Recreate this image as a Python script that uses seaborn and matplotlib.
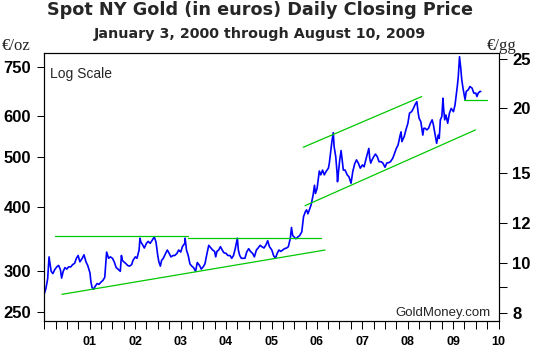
import numpy as np
import pandas as pd
import matplotlib
matplotlib.use('Agg')
import matplotlib.pyplot as plt
import seaborn as sns

# ---------------- data ----------------
dates = [
    "2000-01-03", "2000-01-14", "2000-01-28", "2000-02-08", "2000-02-15", "2000-02-25",
    "2000-03-10", "2000-03-24", "2000-04-10", "2000-04-25", "2000-05-10", "2000-05-19",
    "2000-06-01", "2000-06-15", "2000-06-30", "2000-07-14", "2000-08-01", "2000-08-15",
    "2000-09-01", "2000-09-15", "2000-09-29", "2000-10-13", "2000-11-01", "2000-11-15",
    "2000-12-01", "2000-12-15",
    "2001-01-02", "2001-01-10", "2001-01-19", "2001-02-01", "2001-02-15", "2001-03-01",
    "2001-03-15", "2001-04-02", "2001-04-16", "2001-05-01", "2001-05-16", "2001-06-01",
    "2001-06-15", "2001-07-02", "2001-07-16", "2001-08-01", "2001-08-15", "2001-09-03",
    "2001-09-12", "2001-09-20", "2001-10-01", "2001-10-15", "2001-11-01", "2001-11-15",
    "2001-12-03", "2001-12-14",
    "2002-01-02", "2002-01-15", "2002-02-01", "2002-02-08", "2002-02-15", "2002-03-01",
    "2002-03-15", "2002-04-01", "2002-04-15", "2002-05-01", "2002-05-15", "2002-06-03",
    "2002-06-17", "2002-07-01", "2002-07-10", "2002-07-22", "2002-08-01", "2002-08-15",
    "2002-09-02", "2002-09-16", "2002-10-01", "2002-10-15", "2002-11-01", "2002-11-15",
    "2002-12-02", "2002-12-16",
    "2003-01-02", "2003-01-15", "2003-02-03", "2003-02-06", "2003-02-17", "2003-03-03",
    "2003-03-17", "2003-04-01", "2003-04-15", "2003-05-01", "2003-05-15", "2003-06-02",
    "2003-06-16", "2003-07-01", "2003-07-15", "2003-08-01", "2003-08-15", "2003-09-01",
    "2003-09-15", "2003-10-01", "2003-10-10", "2003-10-20", "2003-11-03", "2003-11-17",
    "2003-12-01", "2003-12-15",
    "2004-01-02", "2004-01-15", "2004-02-02", "2004-02-16", "2004-03-01", "2004-03-15",
    "2004-04-01", "2004-04-09", "2004-04-20", "2004-05-03", "2004-05-17", "2004-06-01",
    "2004-06-15", "2004-07-01", "2004-07-15", "2004-08-02", "2004-08-16", "2004-09-01",
    "2004-09-15", "2004-10-01", "2004-10-15", "2004-11-01", "2004-11-15", "2004-12-01",
    "2004-12-15",
    "2005-01-03", "2005-01-17", "2005-02-01", "2005-02-15", "2005-03-01", "2005-03-15",
    "2005-04-01", "2005-04-15", "2005-05-02", "2005-05-16", "2005-06-01", "2005-06-10",
    "2005-06-20", "2005-07-01", "2005-07-15", "2005-08-01", "2005-08-15", "2005-09-01",
    "2005-09-15", "2005-09-30", "2005-10-10", "2005-10-20", "2005-11-01", "2005-11-15",
    "2005-12-01", "2005-12-12", "2005-12-20",
    "2006-01-02", "2006-01-16", "2006-01-20", "2006-02-01", "2006-02-15", "2006-03-01",
    "2006-03-15", "2006-04-03", "2006-04-10", "2006-04-20", "2006-05-01", "2006-05-12",
    "2006-05-19", "2006-06-01", "2006-06-12", "2006-06-15", "2006-07-03", "2006-07-14",
    "2006-08-01", "2006-08-15", "2006-09-01", "2006-09-15", "2006-10-02", "2006-10-16",
    "2006-11-01", "2006-11-15", "2006-12-01", "2006-12-15",
    "2007-01-02", "2007-01-15", "2007-02-01", "2007-02-15", "2007-02-22", "2007-03-01",
    "2007-03-09", "2007-03-20", "2007-04-02", "2007-04-16", "2007-05-01", "2007-05-15",
    "2007-06-01", "2007-06-15", "2007-07-02", "2007-07-16", "2007-08-01", "2007-08-15",
    "2007-09-03", "2007-09-17", "2007-10-01", "2007-10-15", "2007-11-01", "2007-11-08",
    "2007-11-15", "2007-11-26", "2007-12-03", "2007-12-17",
    "2008-01-02", "2008-01-15", "2008-02-01", "2008-02-15", "2008-03-03", "2008-03-14",
    "2008-03-25", "2008-04-01", "2008-04-15", "2008-05-01", "2008-05-09", "2008-05-20",
    "2008-06-02", "2008-06-16", "2008-07-01", "2008-07-15", "2008-07-25", "2008-08-01",
    "2008-08-15", "2008-08-20", "2008-09-01", "2008-09-10", "2008-09-19", "2008-10-01",
    "2008-10-10", "2008-10-15", "2008-10-24", "2008-11-03", "2008-11-17", "2008-12-01",
    "2008-12-15",
    "2009-01-02", "2009-01-15", "2009-02-02", "2009-02-10", "2009-02-20", "2009-03-02",
    "2009-03-10", "2009-03-20", "2009-04-01", "2009-04-06", "2009-04-15", "2009-05-01",
    "2009-05-15", "2009-06-01", "2009-06-15", "2009-07-01", "2009-07-10", "2009-07-20",
    "2009-08-03", "2009-08-10",
]
prices = [
    272, 278, 290, 320, 312, 300,
    297, 302, 306, 308, 302, 291,
    300, 305, 303, 306, 306, 309,
    311, 318, 322, 313, 318, 323,
    313, 308,
    298, 286, 279, 277, 281, 284,
    283, 286, 288, 292, 327, 318,
    320, 318, 313, 305, 303, 300,
    322, 315, 313, 311, 308, 307,
    309, 315,
    320, 318, 330, 348, 342, 338,
    333, 340, 343, 340, 344, 350,
    342, 322, 313, 307, 315, 318,
    325, 330, 325, 320, 322, 322,
    325, 330,
    327, 335, 340, 348, 330, 322,
    310, 307, 305, 300, 312, 308,
    303, 306, 310, 325, 337, 333,
    330, 328, 320, 328, 330, 335,
    330, 326,
    325, 322, 322, 318, 322, 332,
    348, 330, 322, 318, 318, 318,
    327, 332, 328, 325, 320, 330,
    333, 337, 335, 333, 337, 344,
    335,
    330, 322, 318, 325, 330, 328,
    330, 332, 333, 335, 348, 365,
    352, 350, 347, 350, 352, 358,
    383, 392, 395, 388, 395, 404,
    422, 441, 425,
    435, 462, 470, 462, 472, 462,
    469, 476, 486, 509, 536, 558,
    524, 501, 465, 448, 494, 515,
    472, 472, 462, 458, 445, 469,
    486, 494, 486, 476,
    483, 479, 498, 512, 520, 498,
    487, 494, 501, 507, 501, 490,
    490, 487, 478, 487, 488, 490,
    498, 509, 520, 528, 552, 560,
    536, 544, 548, 565,
    582, 609, 613, 622, 635, 641,
    609, 595, 586, 552, 569, 569,
    565, 569, 582, 591, 578, 565,
    540, 532, 552, 544, 591, 600,
    651, 622, 591, 604, 582, 609,
    622,
    613, 632, 686, 717, 784, 745,
    707, 681, 656, 648, 671, 676,
    686, 681, 666, 666, 656, 666,
    671, 671,
]

# green trend lines (start date, end date, start value, end value)
trend_start_dates = ["2000-03-27", "2003-03-05", "2000-05-22", "2005-09-13", "2005-09-27", "2009-03-25"]
trend_end_dates = ["2003-03-03", "2006-02-03", "2006-03-07", "2008-04-22", "2009-06-28", "2009-09-27"]
trend_start_vals = [351, 349, 270.6, 522.7, 402.4, 645]
trend_end_vals = [351, 349, 330, 655.8, 564.9, 645]

left_ticks = [250, 300, 400, 500, 600, 750]
right_ticks = [8, 9, 10, 12, 15, 20, 25]
right_labels = ["8", "", "10", "12", "15", "20", "25"]
year_labels = ["01", "02", "03", "04", "05", "06", "07", "08", "09", "10"]

GRAMS_PER_OZ = 31.1035

# ---------------- styling ----------------
sns.set_style("white")
plt.rcParams['font.family'] = ['Liberation Sans', 'DejaVu Sans']

W, H = 534, 347
fig = plt.figure(figsize=(W / 100, H / 100), dpi=100)
L, R, T, B = 44.3, 498.7, 53.3, 320.7
ax = fig.add_axes([L / W, 1 - B / H, (R - L) / W, (B - T) / H])

df = pd.DataFrame({"date": pd.to_datetime(dates), "price": prices})
sns.lineplot(data=df, x="date", y="price", ax=ax, color="#0000FF",
             linewidth=1.2, estimator=None, sort=False)

for sd, ed, sv, ev in zip(trend_start_dates, trend_end_dates, trend_start_vals, trend_end_vals):
    seg = pd.DataFrame({"date": pd.to_datetime([sd, ed]), "price": [sv, ev]})
    sns.lineplot(data=seg, x="date", y="price", ax=ax, color="#00C800",
                 linewidth=0.9, estimator=None, sort=False)

ax.set_yscale("log")
ymin, ymax = 240.5, 796.0
ax.set_ylim(ymin, ymax)
ax.set_yticks(left_ticks, labels=[str(v) for v in left_ticks],
              fontsize=12, fontweight="bold")
ax.minorticks_off()
ax.set_xlim(pd.Timestamp("2000-01-01"), pd.Timestamp("2010-01-01"))
qticks = pd.date_range("2000-01-01", "2010-01-01", freq="QS")
qlabels = []
for d in qticks:
    if d.month == 1 and d.year > 2000:
        qlabels.append(year_labels[d.year - 2001])
    else:
        qlabels.append("")
ax.set_xticks(qticks, labels=qlabels, fontsize=9, fontweight="bold")
ax.set_xlabel("")
ax.set_ylabel("")
ax.tick_params(axis="y", which="both", left=True, right=False, direction="out",
               length=5, width=0.75, pad=4.7, colors="black")
ax.tick_params(axis="x", which="both", bottom=True, top=False, direction="out",
               length=5.5, width=0.75, pad=5.8, colors="black")
for sp in ax.spines.values():
    sp.set_color("black")
    sp.set_linewidth(0.8)

ax2 = ax.twinx()
ax2.set_yscale("log")
ax2.set_ylim(ymin / GRAMS_PER_OZ, ymax / GRAMS_PER_OZ)
ax2.set_yticks(right_ticks, labels=right_labels, fontsize=12, fontweight="bold")
ax2.minorticks_off()
ax2.tick_params(axis="y", which="both", right=True, left=False, direction="out",
                length=5.8, width=0.75, pad=3.8, colors="black")
for sp in ax2.spines.values():
    sp.set_color("black")
    sp.set_linewidth(0.8)

# ---------------- text ----------------
fig.text(260 / W, 1 - 15 / H, "Spot NY Gold (in euros) Daily Closing Price",
         ha="center", va="baseline", fontsize=12.7, fontweight="bold",
         family=["DejaVu Sans"])
fig.text(260 / W, 1 - 38.3 / H, "January 3, 2000 through August 10, 2009",
         ha="center", va="baseline", fontsize=10.3, fontweight="bold",
         family=["DejaVu Sans"])
fig.text(2 / W, 1 - 49.5 / H, "€/oz", ha="left", va="baseline", fontsize=12,
         family=["Liberation Serif", "DejaVu Serif"])
fig.text(487 / W, 1 - 49.5 / H, "€/gg", ha="left", va="baseline", fontsize=12,
         family=["Liberation Serif", "DejaVu Serif"])
fig.text(50 / W, 1 - 77.7 / H, "Log Scale", ha="left", va="baseline", fontsize=10)
fig.text(490 / W, 1 - 316 / H, "GoldMoney.com", ha="right", va="baseline", fontsize=9.5)

fig.savefig("out.png", dpi=100)
